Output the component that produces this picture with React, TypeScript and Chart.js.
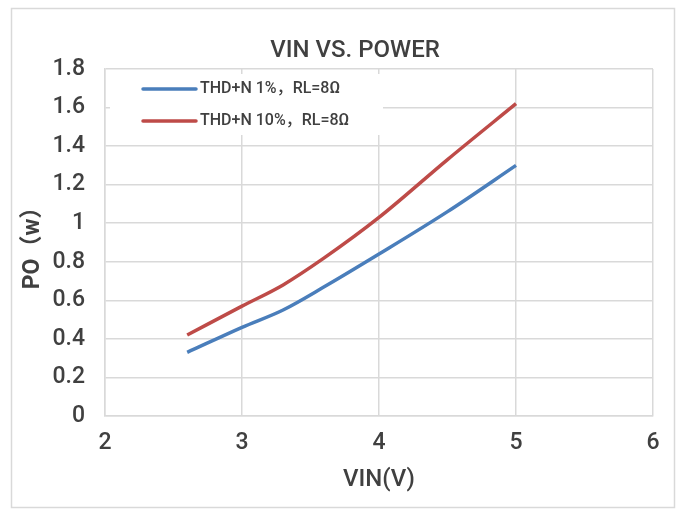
import React, { useEffect, useRef } from "react";
import { Chart, registerables } from "chart.js";

Chart.register(...registerables);

const TITLE = "VIN VS. POWER";
const X_TITLE = "VIN(V)";
const Y_TITLE = "PO（w）";

const SERIES_LABELS = ["THD+N 1%，RL=8Ω", "THD+N 10%，RL=8Ω"];
const SERIES_COLORS = ["#4A7EBB", "#BE4B48"];

const VIN_1 = [2.6, 3.0, 3.3, 3.6, 4.0, 4.5, 5.0];
const PO_1 = [0.33, 0.46, 0.55, 0.67, 0.84, 1.06, 1.3];

const VIN_10 = [2.6, 3.0, 3.3, 3.6, 4.0, 4.5, 5.0];
const PO_10 = [0.42, 0.57, 0.68, 0.82, 1.03, 1.33, 1.62];

const X_MIN = 2, X_MAX = 6, X_STEP = 1;
const Y_MIN = 0, Y_MAX = 1.8, Y_STEP = 0.2;

const FONT = "Roboto, 'Noto Sans CJK SC', sans-serif";
const TEXT = "#404040";
const GRID = "#d9d9d9";

const decorPlugin = {
  id: "decor",
  beforeDraw(chart: any) {
    const ctx = chart.ctx;
    ctx.save();
    ctx.fillStyle = "#ffffff";
    ctx.fillRect(0, 0, chart.width, chart.height);
    ctx.strokeStyle = GRID;
    ctx.lineWidth = 1.5;
    ctx.strokeRect(11.5, 8.5, 663, 499);
    ctx.fillStyle = TEXT;
    ctx.font = `500 24px ${FONT}`;
    ctx.textAlign = "center";
    ctx.textBaseline = "middle";
    ctx.fillText(TITLE, 355, 51);
    ctx.restore();
  },
  afterDraw(chart: any) {
    const ctx = chart.ctx;
    ctx.save();
    ctx.fillStyle = "#ffffff";
    ctx.fillRect(110, 74, 273, 61);
    chart.data.datasets.forEach((ds: any, i: number) => {
      const y = 89 + i * 32;
      ctx.strokeStyle = ds.borderColor;
      ctx.lineWidth = 3.5;
      ctx.lineCap = "round";
      ctx.beginPath();
      ctx.moveTo(143, y);
      ctx.lineTo(196, y);
      ctx.stroke();
      ctx.fillStyle = TEXT;
      ctx.font = `500 16px ${FONT}`;
      ctx.textAlign = "left";
      ctx.textBaseline = "middle";
      ctx.fillText(ds.label, 200, y);
    });
    ctx.restore();
  },
};

export default function App() {
  const ref = useRef<HTMLCanvasElement | null>(null);
  useEffect(() => {
    if (!ref.current) return;
    const mk = (xs: number[], ys: number[]) => xs.map((x, i) => ({ x, y: ys[i] }));
    const chart = new Chart(ref.current, {
      type: "line",
      data: {
        datasets: [
          {
            label: SERIES_LABELS[0],
            data: mk(VIN_1, PO_1),
            borderColor: SERIES_COLORS[0],
            backgroundColor: SERIES_COLORS[0],
            borderWidth: 3.5,
            pointRadius: 0,
            cubicInterpolationMode: "monotone",
          },
          {
            label: SERIES_LABELS[1],
            data: mk(VIN_10, PO_10),
            borderColor: SERIES_COLORS[1],
            backgroundColor: SERIES_COLORS[1],
            borderWidth: 3.5,
            pointRadius: 0,
            cubicInterpolationMode: "monotone",
          },
        ],
      },
      options: {
        animation: false,
        responsive: false,
        devicePixelRatio: 1,
        layout: { padding: { top: 69, right: 26, bottom: 0, left: 0 } },
        plugins: { legend: { display: false }, title: { display: false }, tooltip: { enabled: false } },
        scales: {
          x: {
            type: "linear",
            min: X_MIN,
            max: X_MAX,
            afterFit: (s: any) => { s.height = 94; },
            grid: { color: GRID, lineWidth: 1.5, drawTicks: false },
            border: { color: GRID, width: 1.5 },
            ticks: { stepSize: X_STEP, color: TEXT, font: { family: FONT, size: 23, weight: "500" }, padding: 13 },
            title: { display: true, text: X_TITLE, color: TEXT, font: { family: FONT, size: 24, weight: "500" }, padding: { top: 0, bottom: 16 } },
          },
          y: {
            type: "linear",
            min: Y_MIN,
            max: Y_MAX,
            afterFit: (s: any) => { s.width = 105; },
            grid: { color: GRID, lineWidth: 1.5, drawTicks: false },
            border: { color: GRID, width: 1.5 },
            ticks: {
              stepSize: Y_STEP,
              color: TEXT,
              font: { family: FONT, size: 23, weight: "500" },
              padding: 20,
              callback: (v: any) => String(Number(Number(v).toFixed(1))),
            },
            title: { display: true, text: Y_TITLE, color: TEXT, font: { family: FONT, size: 23, weight: "bold" }, padding: { top: 19, bottom: 0 } },
          },
        },
      },
      plugins: [decorPlugin],
    } as any);
    return () => chart.destroy();
  }, []);
  return (
    <div style={{ position: "absolute", left: 0, top: 0, width: 679, height: 510 }}>
      <canvas ref={ref} width={679} height={510} style={{ width: 679, height: 510, display: "block" }} />
    </div>
  );
}
